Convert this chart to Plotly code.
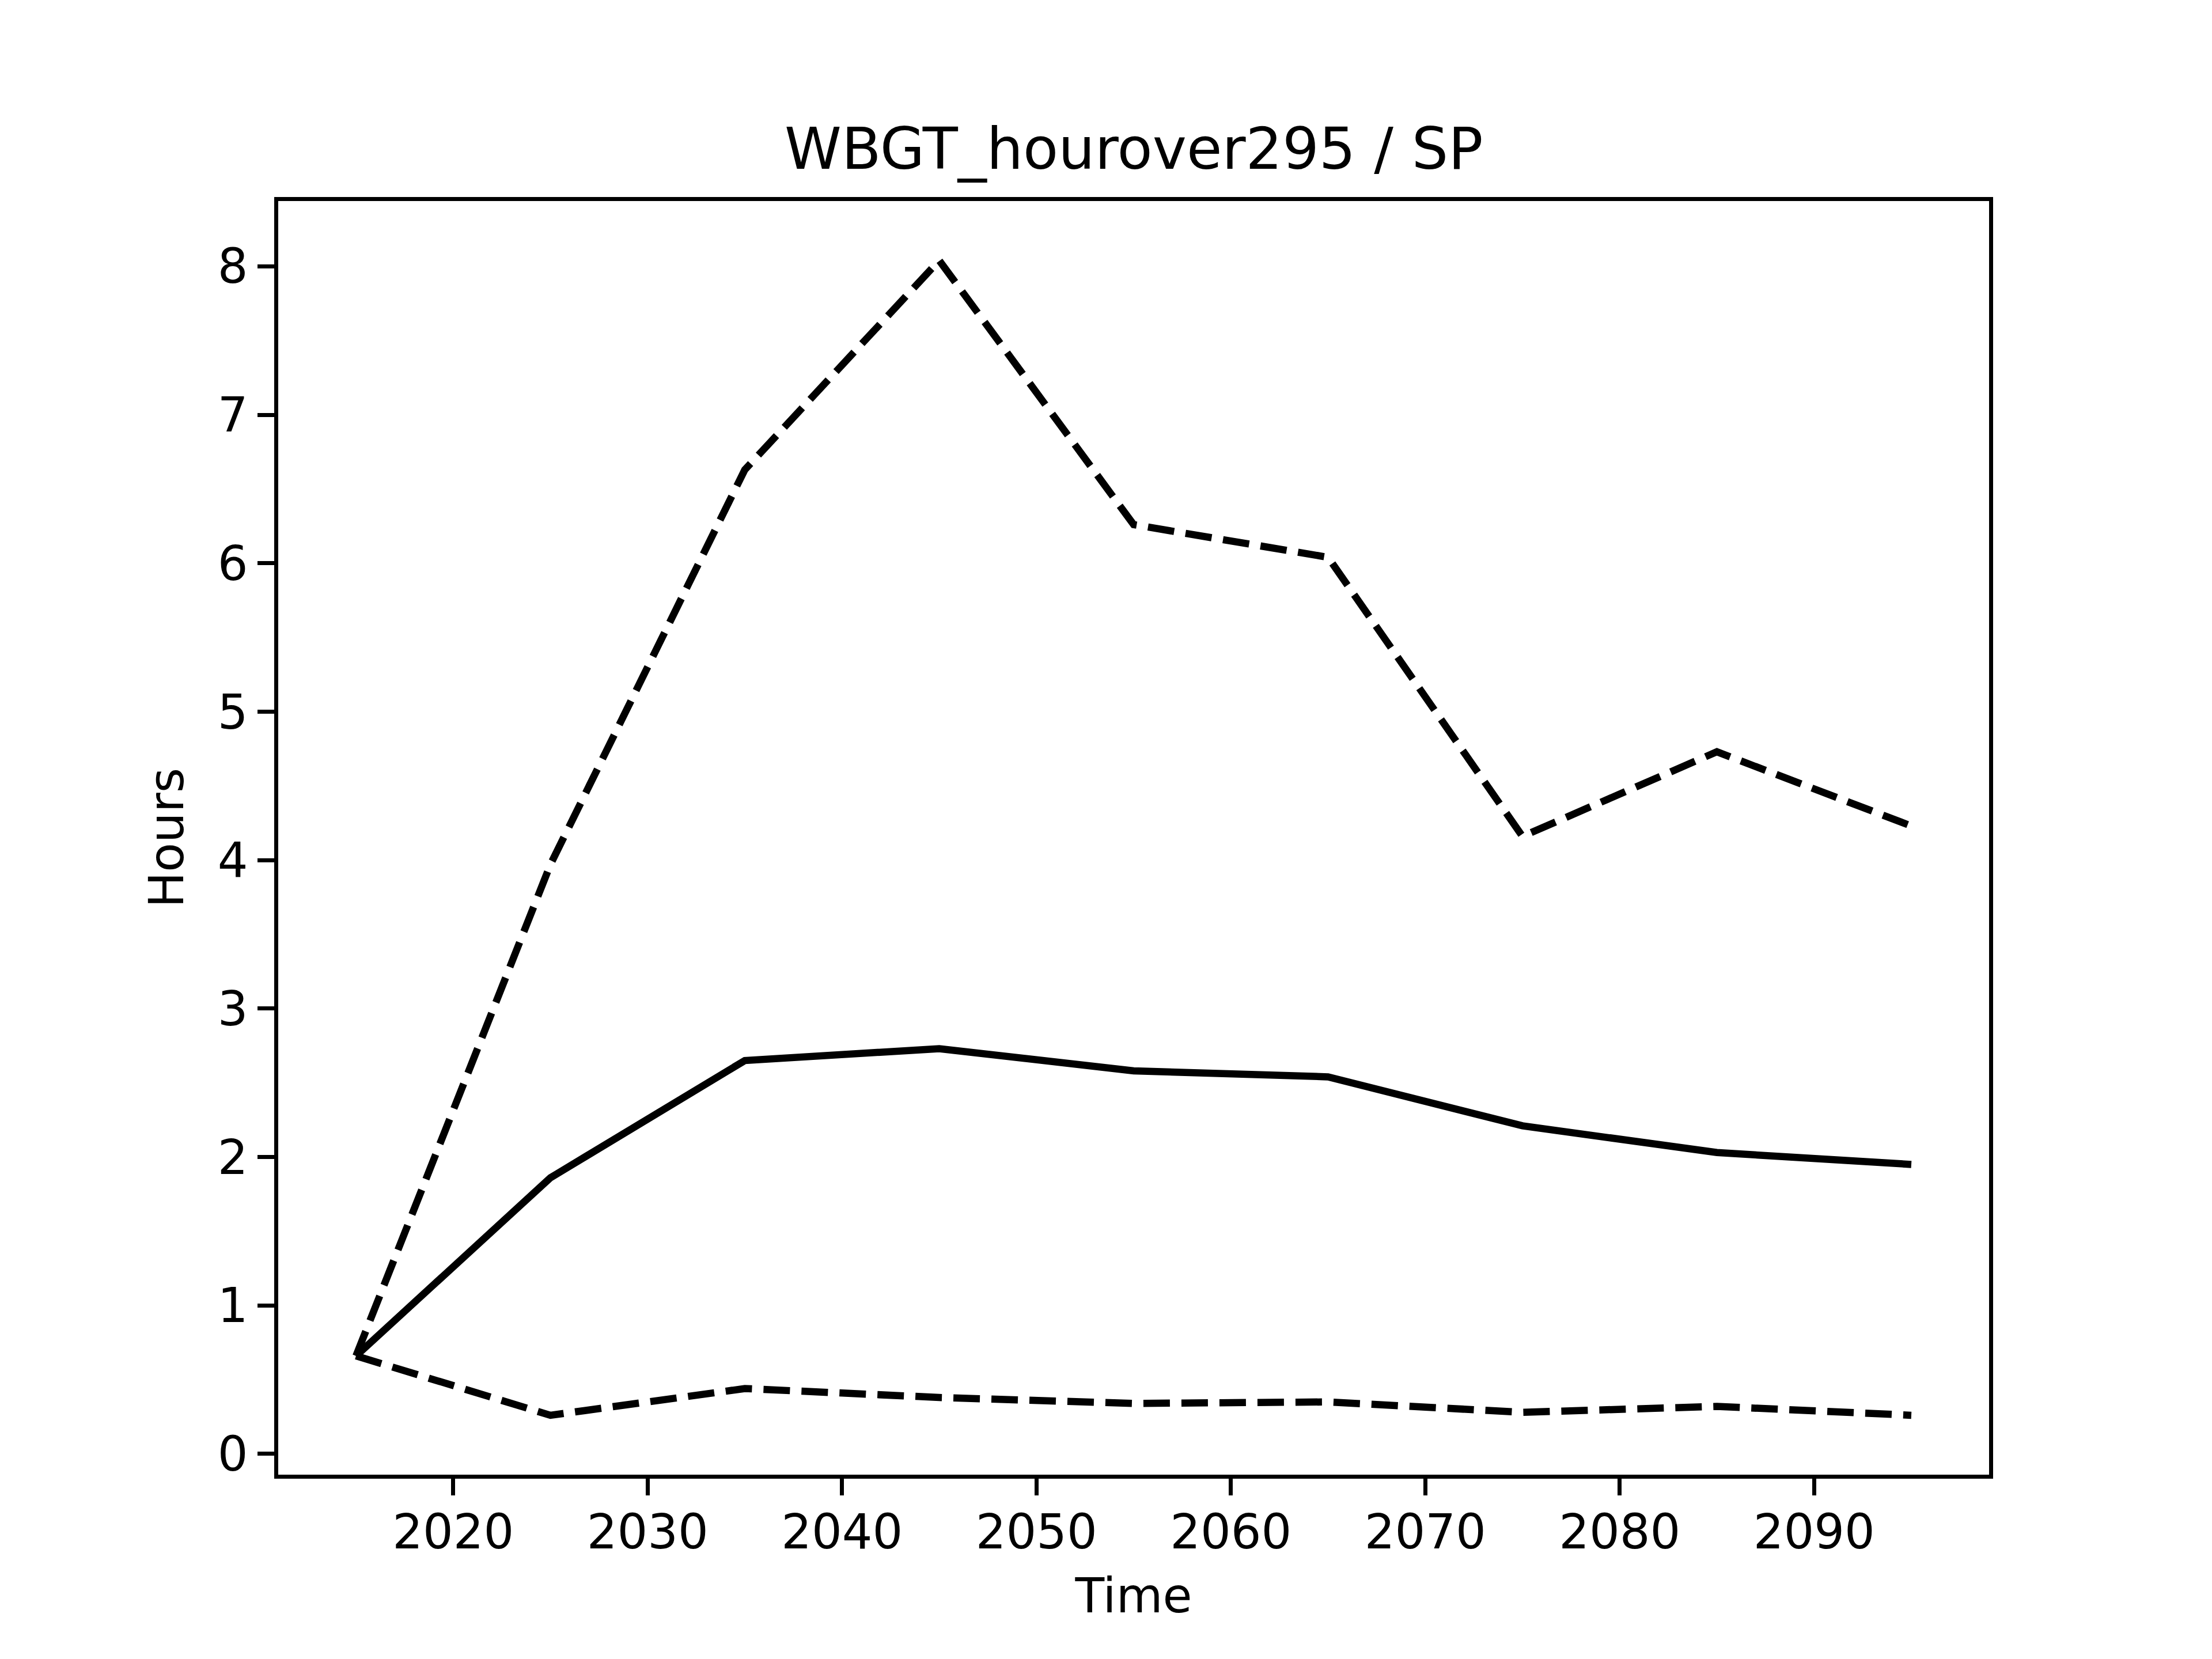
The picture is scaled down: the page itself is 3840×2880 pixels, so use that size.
import plotly.graph_objects as go

years = [2015, 2025, 2035, 2045, 2055, 2065, 2075, 2085, 2095]
median = [0.66, 1.86, 2.65, 2.73, 2.58, 2.54, 2.21, 2.03, 1.95]
upper = [0.66, 3.97, 6.63, 8.04, 6.26, 6.04, 4.16, 4.73, 4.23]
lower = [0.66, 0.26, 0.44, 0.38, 0.34, 0.35, 0.28, 0.32, 0.26]

title_text = "WBGT_hourover295 / SP"
x_label = "Time"
y_label = "Hours"
x_ticks = [2020, 2030, 2040, 2050, 2060, 2070, 2080, 2090]
y_ticks = [0, 1, 2, 3, 4, 5, 6, 7, 8]

LW = 12.5
dash = "46px,20px"

fig = go.Figure()
fig.add_trace(go.Scatter(x=years, y=median, mode="lines",
                         line=dict(color="black", width=LW), showlegend=False))
fig.add_trace(go.Scatter(x=years, y=upper, mode="lines",
                         line=dict(color="black", width=LW, dash=dash), showlegend=False))
fig.add_trace(go.Scatter(x=years, y=lower, mode="lines",
                         line=dict(color="black", width=LW, dash=dash), showlegend=False))

font = "DejaVu Sans"
axis_common = dict(
    showgrid=False, zeroline=False, showline=True, mirror=True,
    linecolor="black", linewidth=6.7, ticks="outside", ticklen=29,
    tickwidth=6.7, tickcolor="black",
    tickfont=dict(family=font, size=83, color="black"),
)

fig.update_layout(
    width=3824, height=2864,
    paper_bgcolor="white", plot_bgcolor="white",
    margin=dict(l=475.35, r=379.35, t=341.35, b=312.35, autoexpand=False),
    font=dict(family=font, color="black"),
    xaxis=dict(range=[2011, 2099], tickvals=x_ticks, ticklabelstandoff=-7,
               title=dict(text=x_label, font=dict(family=font, size=83), standoff=36),
               **axis_common),
    yaxis=dict(range=[-0.14, 8.44], tickvals=y_ticks,
               title=dict(text=y_label, font=dict(family=font, size=83), standoff=34),
               **axis_common),
    annotations=[dict(text=title_text, x=0.5, xref="paper", y=1.041, yref="paper",
                      xanchor="center", yanchor="middle", showarrow=False,
                      font=dict(family=font, size=100, color="black"))],
)

fig.write_html("out.html")
